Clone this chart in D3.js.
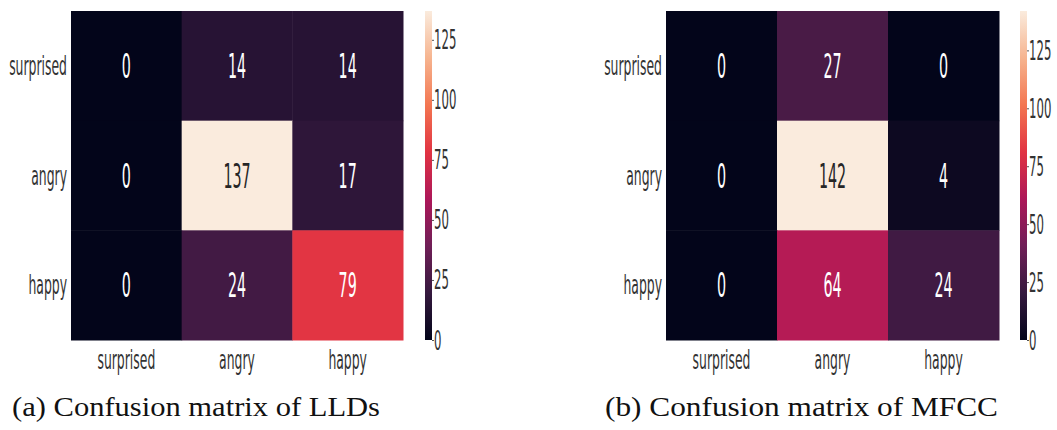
<!DOCTYPE html>
<html><head><meta charset="utf-8">
<script src="https://cdn.jsdelivr.net/npm/d3@7"></script>
<style>body{margin:0;background:#fff}svg{display:block}</style>
</head><body>
<svg id="c" width="1057" height="430"></svg>
<script>
const categories = ["surprised", "angry", "happy"];
const lldValues = [[0, 14, 14], [0, 137, 17], [0, 24, 79]];
const mfccValues = [[0, 27, 0], [0, 142, 4], [0, 64, 24]];
const lldMax = 137;
const mfccMax = 142;
const colorbarTicks = [0, 25, 50, 75, 100, 125];
const captions = ["(a) Confusion matrix of LLDs", "(b) Confusion matrix of MFCC"];

// seaborn "rocket" colormap stops
const rocketStops = [0, 1/7, 2/7, 3/7, 4/7, 5/7, 6/7, 1];
const rocketColors = ["#03051a", "#35193e", "#701f57", "#ad1759", "#e13342", "#f37651", "#f6b48f", "#faebdd"];
const rocket = d3.scaleLinear().domain(rocketStops).range(rocketColors).interpolate(d3.interpolateRgb).clamp(true);

const svg = d3.select("#c");

function panel(cfg) {
  const g = svg.append("g");
  const x = d3.scaleBand().domain(categories).range([cfg.x0, cfg.x1]);
  const y = d3.scaleBand().domain(categories).range([cfg.y0, cfg.y1]);
  const norm = d3.scaleLinear().domain([0, cfg.vmax]).range([0, 1]);
  const cells = [];
  cfg.values.forEach((row, i) => row.forEach((v, j) => cells.push({r: categories[i], c: categories[j], v})));
  g.selectAll("rect.cell").data(cells).join("rect").attr("class", "cell")
    .attr("x", d => x(d.c)).attr("y", d => y(d.r))
    .attr("width", x.bandwidth() + 0.5).attr("height", y.bandwidth() + 0.5)
    .attr("fill", d => rocket(norm(d.v)));
  g.selectAll("text.ann").data(cells).join("text").attr("class", "ann")
    .attr("transform", d => `translate(${x(d.c) + x.bandwidth() / 2},${y(d.r) + y.bandwidth() / 2 + 12}) scale(0.42,1)`)
    .attr("text-anchor", "middle")
    .attr("font-family", "DejaVu Sans").attr("font-size", 34)
    .attr("fill", d => norm(d.v) > 0.6 ? "#262626" : "#ffffff")
    .text(d => d.v);
  // y tick labels
  g.selectAll("text.yl").data(categories).join("text").attr("class", "yl")
    .attr("transform", d => `translate(${cfg.x0 - 4},${y(d) + y.bandwidth() / 2 + 9}) scale(0.46,1)`)
    .attr("text-anchor", "end").attr("font-family", "DejaVu Sans").attr("font-size", 27).attr("fill", "#333")
    .text(d => d);
  // x tick labels
  g.selectAll("text.xl").data(categories).join("text").attr("class", "xl")
    .attr("transform", d => `translate(${x(d) + x.bandwidth() / 2},${cfg.y1 + 29}) scale(0.46,1)`)
    .attr("text-anchor", "middle").attr("font-family", "DejaVu Sans").attr("font-size", 27).attr("fill", "#333")
    .text(d => d);
  // colorbar
  const cb = d3.scaleLinear().domain([0, cfg.vmax]).range([cfg.y1, cfg.y0]);
  const gid = "grad" + cfg.id;
  const grad = svg.append("defs").append("linearGradient").attr("id", gid)
    .attr("x1", 0).attr("y1", 1).attr("x2", 0).attr("y2", 0);
  rocketStops.forEach((s, i) => grad.append("stop").attr("offset", s).attr("stop-color", rocketColors[i]));
  g.append("rect").attr("x", cfg.cbx).attr("y", cfg.y0).attr("width", 7).attr("height", cfg.y1 - cfg.y0)
    .attr("fill", `url(#${gid})`);
  const ax = g.append("g").attr("transform", `translate(${cfg.cbx + 7},0)`)
    .call(d3.axisRight(cb).tickValues(colorbarTicks).tickSize(2).tickPadding(1));
  ax.select(".domain").remove();
  ax.selectAll(".tick line").attr("stroke", "#555");
  ax.selectAll(".tick text").attr("x", null).attr("dy", null)
    .attr("transform", "translate(2,9) scale(0.45,1)")
    .attr("font-family", "DejaVu Sans").attr("font-size", 26).attr("fill", "#333");
  // caption
  g.append("text").attr("x", cfg.capx).attr("y", 416)
    .attr("font-family", "Liberation Serif").attr("font-size", 28).attr("fill", "#111")
    .attr("textLength", cfg.capw).attr("lengthAdjust", "spacingAndGlyphs")
    .text(cfg.caption);
}

panel({id: "a", values: lldValues, vmax: lldMax, x0: 71, x1: 403, y0: 11, y1: 340, cbx: 425, capx: 12, capw: 368, caption: captions[0]});
panel({id: "b", values: mfccValues, vmax: mfccMax, x0: 666, x1: 999, y0: 11, y1: 340, cbx: 1020, capx: 605, capw: 393, caption: captions[1]});
</script>
</body></html>
